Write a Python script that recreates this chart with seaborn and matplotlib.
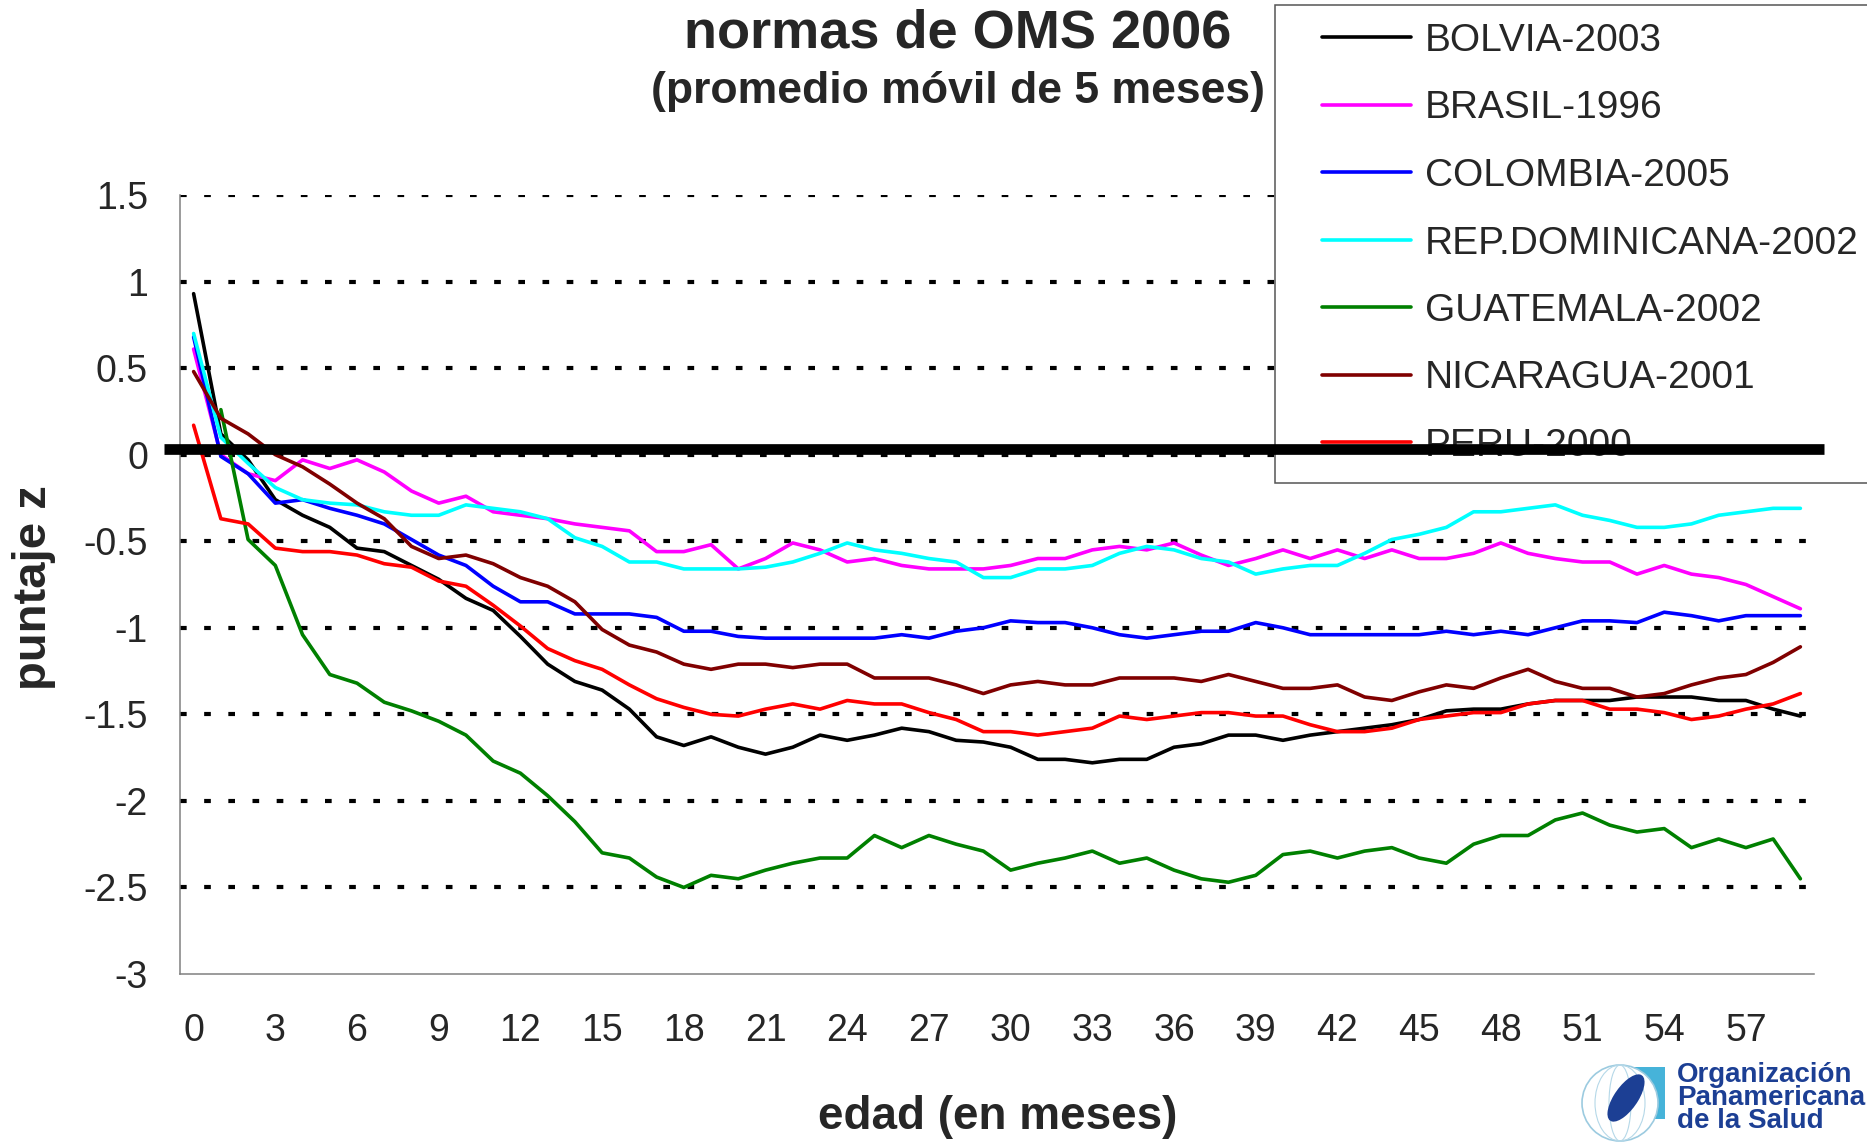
import numpy as np
import pandas as pd
import matplotlib
matplotlib.use("Agg")
import matplotlib.pyplot as plt
from matplotlib.lines import Line2D
from matplotlib.patches import Rectangle, Ellipse
import seaborn as sns

# edad en meses (0..59) y puntaje z, promedio movil de 5 meses
edad = list(range(60))

bolivia = [0.93, 0.12, -0.03, -0.26, -0.35, -0.42, -0.54, -0.56, -0.64, -0.72,
           -0.83, -0.90, -1.05, -1.21, -1.31, -1.36, -1.47, -1.63, -1.68, -1.63,
           -1.69, -1.73, -1.69, -1.62, -1.65, -1.62, -1.58, -1.60, -1.65, -1.66,
           -1.69, -1.76, -1.76, -1.78, -1.76, -1.76, -1.69, -1.67, -1.62, -1.62,
           -1.65, -1.62, -1.60, -1.58, -1.56, -1.53, -1.48, -1.47, -1.47, -1.44,
           -1.42, -1.42, -1.42, -1.40, -1.40, -1.40, -1.42, -1.42, -1.47, -1.51]
brasil = [0.61, 0.00, -0.11, -0.15, -0.03, -0.08, -0.03, -0.10, -0.21, -0.28,
          -0.24, -0.33, -0.35, -0.37, -0.40, -0.42, -0.44, -0.56, -0.56, -0.52,
          -0.66, -0.60, -0.51, -0.55, -0.62, -0.60, -0.64, -0.66, -0.66, -0.66,
          -0.64, -0.60, -0.60, -0.55, -0.53, -0.55, -0.51, -0.58, -0.64, -0.60,
          -0.55, -0.60, -0.55, -0.60, -0.55, -0.60, -0.60, -0.57, -0.51, -0.57,
          -0.60, -0.62, -0.62, -0.69, -0.64, -0.69, -0.71, -0.75, -0.82, -0.89]
colombia = [0.68, -0.01, -0.11, -0.28, -0.26, -0.31, -0.35, -0.40, -0.49, -0.58,
            -0.64, -0.76, -0.85, -0.85, -0.92, -0.92, -0.92, -0.94, -1.02, -1.02,
            -1.05, -1.06, -1.06, -1.06, -1.06, -1.06, -1.04, -1.06, -1.02, -1.00,
            -0.96, -0.97, -0.97, -1.00, -1.04, -1.06, -1.04, -1.02, -1.02, -0.97,
            -1.00, -1.04, -1.04, -1.04, -1.04, -1.04, -1.02, -1.04, -1.02, -1.04,
            -1.00, -0.96, -0.96, -0.97, -0.91, -0.93, -0.96, -0.93, -0.93, -0.93]
rep_dominicana = [0.70, 0.10, -0.05, -0.19, -0.26, -0.28, -0.29, -0.33, -0.35, -0.35,
                  -0.29, -0.31, -0.33, -0.37, -0.48, -0.53, -0.62, -0.62, -0.66, -0.66,
                  -0.66, -0.65, -0.62, -0.57, -0.51, -0.55, -0.57, -0.60, -0.62, -0.71,
                  -0.71, -0.66, -0.66, -0.64, -0.57, -0.53, -0.55, -0.60, -0.62, -0.69,
                  -0.66, -0.64, -0.64, -0.57, -0.49, -0.46, -0.42, -0.33, -0.33, -0.31,
                  -0.29, -0.35, -0.38, -0.42, -0.42, -0.40, -0.35, -0.33, -0.31, -0.31]
guatemala = [np.nan, 0.26, -0.49, -0.64, -1.04, -1.27, -1.32, -1.43, -1.48, -1.54,
             -1.62, -1.77, -1.84, -1.97, -2.12, -2.30, -2.33, -2.44, -2.50, -2.43,
             -2.45, -2.40, -2.36, -2.33, -2.33, -2.20, -2.27, -2.20, -2.25, -2.29,
             -2.40, -2.36, -2.33, -2.29, -2.36, -2.33, -2.40, -2.45, -2.47, -2.43,
             -2.31, -2.29, -2.33, -2.29, -2.27, -2.33, -2.36, -2.25, -2.20, -2.20,
             -2.11, -2.07, -2.14, -2.18, -2.16, -2.27, -2.22, -2.27, -2.22, -2.45]
nicaragua = [0.48, 0.21, 0.12, 0.00, -0.07, -0.17, -0.28, -0.37, -0.53, -0.60,
             -0.58, -0.63, -0.71, -0.76, -0.85, -1.01, -1.10, -1.14, -1.21, -1.24,
             -1.21, -1.21, -1.23, -1.21, -1.21, -1.29, -1.29, -1.29, -1.33, -1.38,
             -1.33, -1.31, -1.33, -1.33, -1.29, -1.29, -1.29, -1.31, -1.27, -1.31,
             -1.35, -1.35, -1.33, -1.40, -1.42, -1.37, -1.33, -1.35, -1.29, -1.24,
             -1.31, -1.35, -1.35, -1.40, -1.38, -1.33, -1.29, -1.27, -1.20, -1.11]
peru = [0.17, -0.37, -0.40, -0.54, -0.56, -0.56, -0.58, -0.63, -0.65, -0.73,
        -0.76, -0.87, -0.99, -1.12, -1.19, -1.24, -1.33, -1.41, -1.46, -1.50,
        -1.51, -1.47, -1.44, -1.47, -1.42, -1.44, -1.44, -1.49, -1.53, -1.60,
        -1.60, -1.62, -1.60, -1.58, -1.51, -1.53, -1.51, -1.49, -1.49, -1.51,
        -1.51, -1.56, -1.60, -1.60, -1.58, -1.53, -1.51, -1.49, -1.49, -1.44,
        -1.42, -1.42, -1.47, -1.47, -1.49, -1.53, -1.51, -1.47, -1.44, -1.38]

paises = ["BOLVIA-2003", "BRASIL-1996", "COLOMBIA-2005", "REP.DOMINICANA-2002",
          "GUATEMALA-2002", "NICARAGUA-2001", "PERU-2000"]
series = [bolivia, brasil, colombia, rep_dominicana, guatemala, nicaragua, peru]
colores = ["#000000", "#FF00FF", "#0000FF", "#00FFFF", "#008000", "#800000", "#FF0000"]

x_ticks = list(range(0, 60, 3))
y_ticks = [1.5, 1, 0.5, 0, -0.5, -1, -1.5, -2, -2.5, -3]
y_labels = ["1.5", "1", "0.5", "0", "-0.5", "-1", "-1.5", "-2", "-2.5", "-3"]

df = pd.concat(
    [pd.DataFrame({"edad": edad, "z": s, "pais": p}) for p, s in zip(paises, series)],
    ignore_index=True,
)

sns.set_style("white")
plt.rcParams["font.family"] = ["Liberation Sans", "DejaVu Sans"]
plt.rcParams["axes.unicode_minus"] = False

W, H = 1867, 1144
fig = plt.figure(figsize=(W / 100, H / 100), dpi=100)
ax = fig.add_axes([180 / W, 1 - 974 / H, 1634 / W, 779 / H])


def fx(px):
    return px / W


def fy(py):
    return 1 - py / H


# dotted gridlines (none at the bottom axis)
for v in y_ticks:
    if v > -3:
        ax.axhline(v, color="black", linewidth=3.0, linestyle=(0, (1.6, 4.2)), zorder=1)

sns.lineplot(data=df, x="edad", y="z", hue="pais", hue_order=paises,
             palette=dict(zip(paises, colores)), linewidth=2.6, legend=False,
             ax=ax, zorder=3)

ax.set_xlim(-0.5, 59.5)
ax.set_ylim(-3, 1.5)
ax.set_xlabel("")
ax.set_ylabel("")

ax.set_yticks(y_ticks)
ax.set_yticklabels(y_labels, fontsize=27)
ax.set_xticks(x_ticks)
ax.set_xticklabels([str(t) for t in x_ticks], fontsize=27)
ax.set_xticks(np.arange(-0.5, 60, 3), minor=True)
ax.tick_params(axis="x", which="major", length=0, pad=28)
ax.tick_params(axis="x", which="minor", length=8, width=1.1, color="#808080", direction="out")
ax.tick_params(axis="y", length=8, width=1.1, color="#808080", direction="out", pad=15)

for side in ["top", "right"]:
    ax.spines[side].set_visible(False)
for side in ["left", "bottom"]:
    ax.spines[side].set_color("#808080")
    ax.spines[side].set_linewidth(1.1)

# legend box (white, runs off the right edge)
ax.add_patch(Rectangle((fx(1275), fy(483)), fx(700), (483 - 5) / H,
                       transform=fig.transFigure, facecolor="white",
                       edgecolor="#555555", linewidth=1.1, clip_on=False, zorder=4))
handles = [Line2D([0], [0], color=c, linewidth=2.6) for c in colores]
leg = ax.legend(handles, paises, loc="upper left",
                bbox_to_anchor=(fx(1322), fy(23)), bbox_transform=fig.transFigure,
                frameon=False, fontsize=28, handlelength=2.3, handletextpad=0.35,
                labelspacing=0.81, borderpad=0, borderaxespad=0)
leg.set_zorder(5)

# thick reference line at z = 0, drawn over the legend
ax.axhline(0.03, xmin=-0.0098, xmax=1.006, color="black", linewidth=7.7,
           clip_on=False, zorder=6, solid_capstyle="butt")

fig.text(fx(958), fy(33), "normas de OMS 2006", ha="center", va="center",
         fontsize=39, fontweight="bold")
fig.text(fx(958), fy(92), "(promedio móvil de 5 meses)", ha="center", va="center",
         fontsize=32, fontweight="bold")
fig.text(fx(34), fy(588), "puntaje z", ha="center", va="center", rotation=90,
         fontsize=34, fontweight="bold")
fig.text(fx(998), fy(1117), "edad (en meses)", ha="center", va="center",
         fontsize=33, fontweight="bold")

# OPS logo
logo_blue = "#1c3f94"
fig.patches.append(Rectangle((fx(1610), fy(1119)), fx(55), (1119 - 1067) / H,
                             transform=fig.transFigure, facecolor="#46b3d9",
                             edgecolor="none", zorder=1))
fig.patches.append(Ellipse((fx(1620), fy(1103)), fx(76), 76 / H,
                           transform=fig.transFigure, facecolor="white",
                           edgecolor="#9ccbe0", linewidth=1.2, zorder=2))
for wdt in [50, 22]:
    fig.patches.append(Ellipse((fx(1620), fy(1103)), fx(wdt), 76 / H,
                               transform=fig.transFigure, facecolor="none",
                               edgecolor="#b5d8e8", linewidth=0.8, zorder=2))
fig.patches.append(Ellipse((fx(1626), fy(1098)), fx(26), 50 / H, angle=-20,
                           transform=fig.transFigure, facecolor=logo_blue,
                           edgecolor="none", zorder=3))
for i, t in enumerate(["Organización", "Panamericana", "de la Salud"]):
    fig.text(fx(1677), fy(1075 + 23 * i), t, ha="left", va="center",
             fontsize=20, fontweight="bold", color=logo_blue)

fig.savefig("out.png", dpi=100)
